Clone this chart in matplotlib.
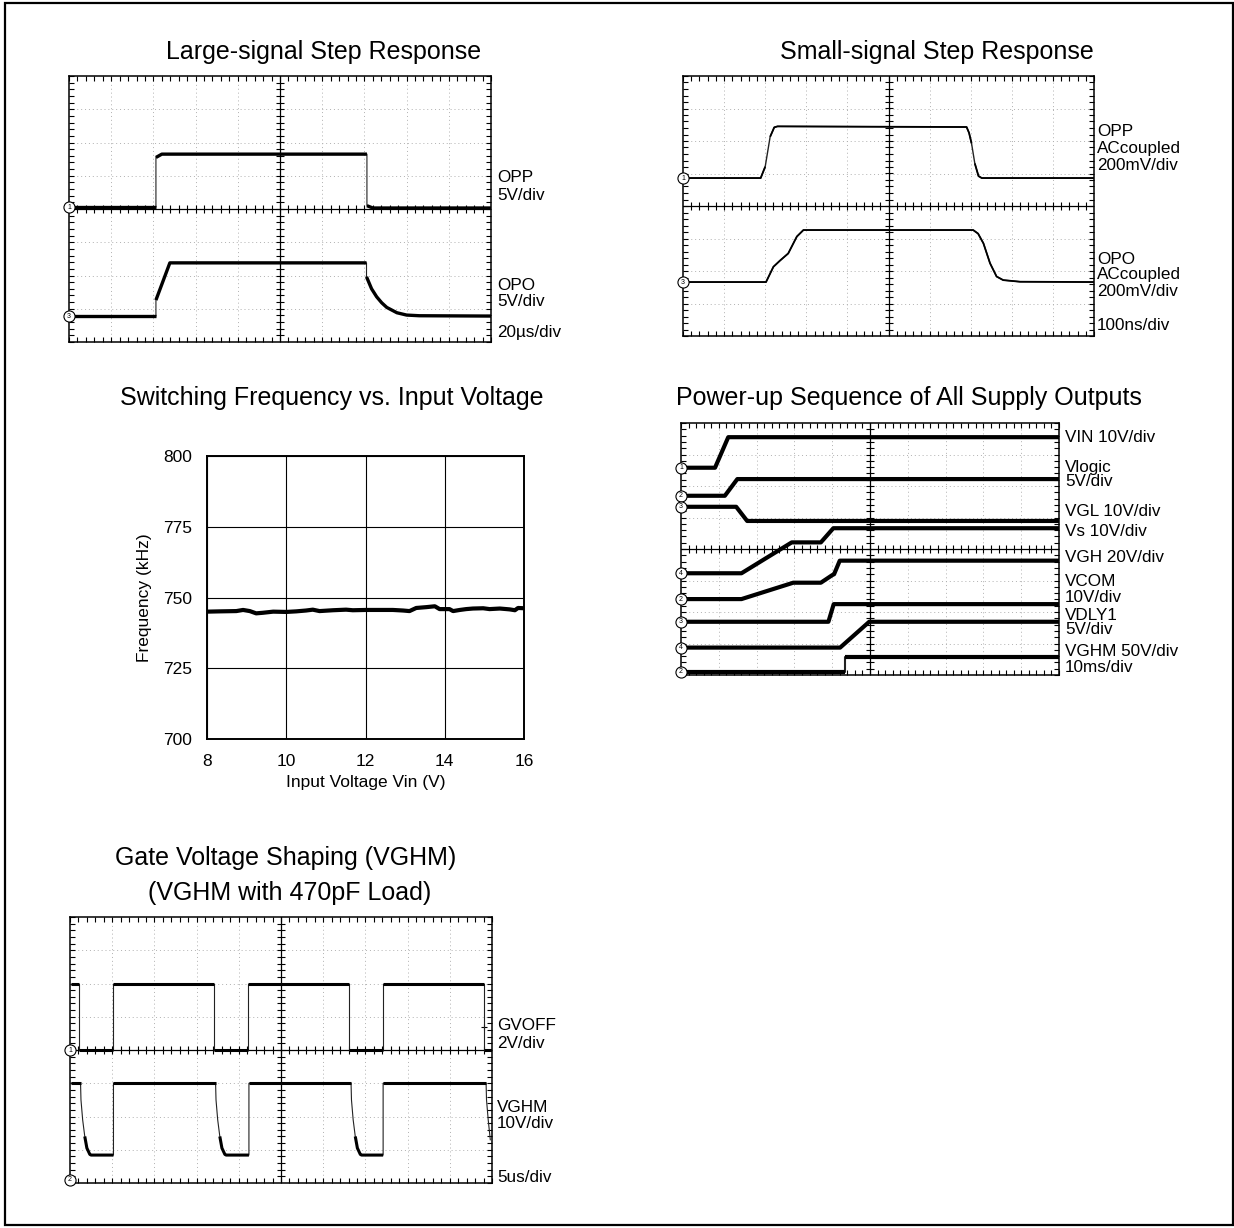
import numpy as np
import matplotlib
matplotlib.use("Agg")
import matplotlib.pyplot as plt
from matplotlib.patches import Rectangle

plt.rcParams['font.family'] = ['Liberation Sans', 'DejaVu Sans']

W, H = 1234, 1228

# ---- trace data (time / level in scope divisions) ----
# Large-signal step response
opp_ls_t = [0, 2.06, 2.06, 2.2, 7.06, 7.06, 7.2, 10]
opp_ls_v = [4.06, 4.06, 5.55, 5.65, 5.65, 4.1, 4.03, 4.03]
opo_ls_t = [0, 2.06, 2.06, 2.39, 7.05, 7.05, 7.17, 7.29, 7.41, 7.53, 7.77, 8.0, 8.3, 10]
opo_ls_v = [0.78, 0.78, 1.26, 2.38, 2.38, 1.96, 1.6, 1.36, 1.18, 1.04, 0.88, 0.81, 0.79, 0.78]

# Small-signal step response
opp_ss_t = [0, 1.89, 2.0, 2.12, 2.22, 2.3, 6.9, 6.96, 7.02, 7.1, 7.19, 7.27, 10]
opp_ss_v = [4.86, 4.86, 5.21, 6.13, 6.42, 6.45, 6.43, 6.25, 5.93, 5.31, 4.92, 4.86, 4.86]
opo_ss_t = [0, 2.02, 2.2, 2.36, 2.56, 2.77, 2.93, 7.06, 7.18, 7.31, 7.47, 7.63, 7.79, 8.2, 10]
opo_ss_v = [1.66, 1.66, 2.13, 2.32, 2.54, 3.06, 3.26, 3.26, 3.15, 2.85, 2.24, 1.83, 1.72, 1.67, 1.66]

# Switching frequency vs input voltage
vin = [8.0, 8.32, 8.74, 8.91, 9.08, 9.24, 9.41, 9.67, 10.0, 10.25, 10.5, 10.67,
       10.84, 11.18, 11.51, 11.68, 12.02, 12.35, 12.69, 12.95, 13.11, 13.28,
       13.54, 13.75, 13.87, 14.12, 14.21, 14.38, 14.54, 14.71, 14.97, 15.13,
       15.39, 15.64, 15.77, 15.85, 16.0]
freq = [745.0, 745.1, 745.2, 745.6, 745.2, 744.4, 744.6, 745.0, 744.9, 745.1,
        745.4, 745.7, 745.2, 745.5, 745.7, 745.5, 745.6, 745.6, 745.6, 745.4,
        745.2, 746.3, 746.6, 746.9, 745.9, 745.9, 745.2, 745.6, 745.9, 746.1,
        746.2, 745.9, 746.1, 745.8, 745.5, 746.3, 746.2]
freq_ticks = [700, 725, 750, 775, 800]
vin_ticks = [8, 10, 12, 14, 16]

# Power-up sequence
pu_traces = [
    # (time, level, channel)
    ([0, 0.9, 1.25, 10], [6.58, 6.58, 7.55, 7.55], '1'),
    ([0, 1.16, 1.49, 10], [5.69, 5.69, 6.22, 6.22], '2'),
    ([0, 1.46, 1.75, 10], [5.34, 5.34, 4.89, 4.89], '3'),
    ([0, 1.6, 2.93, 3.7, 4.03, 10], [3.23, 3.23, 4.21, 4.21, 4.66, 4.66], '4'),
    ([0, 1.6, 2.97, 3.7, 4.0, 4.05, 4.2, 10], [2.41, 2.41, 2.93, 2.93, 3.17, 3.2, 3.63, 3.63], '2'),
    ([0, 3.9, 4.04, 10], [1.69, 1.69, 2.25, 2.25], '3'),
    ([0, 4.21, 4.98, 10], [0.87, 0.87, 1.69, 1.69], '4'),
    ([0, 4.34, 4.34, 10], [0.1, 0.1, 0.58, 0.58], '2'),
]

# Gate voltage shaping
gvoff_t = [0.02, 0.21, 0.21, 1.01, 1.01, 3.41, 3.41, 4.21, 4.21, 6.61, 6.61,
           7.41, 7.41, 9.81, 9.81, 10.0]
gvoff_v = [6.0, 6.0, 4.0, 4.0, 6.0, 6.0, 4.0, 4.0, 6.0, 6.0, 4.0, 4.0, 6.0,
           6.0, 4.0, 4.0]
vghm_t = [0.02, 0.25, 0.26, 0.30, 0.35, 0.40, 0.47, 0.50, 1.03, 1.03,
          3.45, 3.46, 3.50, 3.55, 3.60, 3.67, 3.70, 4.24, 4.24,
          6.66, 6.67, 6.71, 6.76, 6.81, 6.88, 6.91, 7.42, 7.42,
          9.86, 9.87, 9.91, 9.96]
vghm_v = [3.0, 3.0, 2.5, 1.9, 1.4, 1.05, 0.86, 0.84, 0.84, 3.0,
          3.0, 2.5, 1.9, 1.4, 1.05, 0.86, 0.84, 0.84, 3.0,
          3.0, 2.5, 1.9, 1.4, 1.05, 0.86, 0.84, 0.84, 3.0,
          3.0, 2.5, 1.9, 1.3]


def rect_px(x0, y0, x1, y1):
    return [x0 / W, 1 - y1 / H, (x1 - x0) / W, (y1 - y0) / H]


def ftext(x, y, s, **kw):
    kw.setdefault('fontsize', 12.3)
    kw.setdefault('va', 'center')
    fig.text(x / W, 1 - y / H, s, **kw)


def scope_axes(x0, y0, x1, y1):
    ax = fig.add_axes(rect_px(x0, y0, x1, y1))
    ax.set_xlim(0, 10)
    ax.set_ylim(0, 8)
    ax.set_xticks(np.arange(0, 10.001, 0.2))
    ax.set_yticks(np.arange(0, 8.001, 0.2))
    ax.tick_params(direction='in', length=3.5, width=0.8, top=True, right=True,
                   labelbottom=False, labelleft=False)
    for s in ax.spines.values():
        s.set_linewidth(1.1)
    for i in range(1, 10):
        if i != 5:
            ax.axvline(i, color='#b0b0b0', ls=(0, (1, 3)), lw=0.7, zorder=0)
    for j in range(1, 8):
        if j != 4:
            ax.axhline(j, color='#b0b0b0', ls=(0, (1, 3)), lw=0.7, zorder=0)
    ax.axvline(5, color='black', lw=0.9, zorder=1)
    ax.axhline(4, color='black', lw=0.9, zorder=1)
    cx = np.arange(0.2, 10, 0.2)
    cy = np.arange(0.2, 8, 0.2)
    ax.plot(cx, np.full_like(cx, 4), ls='none', marker='|', ms=6, mew=0.8, color='black')
    ax.plot(np.full_like(cy, 5), cy, ls='none', marker='_', ms=6, mew=0.8, color='black')
    ax.px = ((x1 - x0) / 10.0, (y1 - y0) / 8.0)
    return ax


def draw_trace(ax, t, v, lw_flat, lw_edge=0.8):
    t = np.asarray(t, float)
    v = np.asarray(v, float)
    ax.plot(t, v, color='#222222', lw=lw_edge, zorder=3)
    sx, sy = ax.px
    run_t, run_v = [t[0]], [v[0]]
    for i in range(len(t) - 1):
        dx = (t[i + 1] - t[i]) * sx
        dy = abs(v[i + 1] - v[i]) * sy
        if dx > 0 and dy / dx < 6:
            if not run_t or run_t[-1] != t[i] or run_v[-1] != v[i]:
                run_t, run_v = [t[i]], [v[i]]
            run_t.append(t[i + 1])
            run_v.append(v[i + 1])
        else:
            if len(run_t) > 1:
                ax.plot(run_t, run_v, color='black', lw=lw_flat,
                        solid_capstyle='butt', solid_joinstyle='round', zorder=4)
            run_t, run_v = [], []
    if len(run_t) > 1:
        ax.plot(run_t, run_v, color='black', lw=lw_flat,
                solid_capstyle='butt', solid_joinstyle='round', zorder=4)


def channel_mark(ax, y, label):
    ax.plot(0, y, marker='o', ms=8, mfc='white', mec='black', mew=0.8,
            clip_on=False, zorder=6)
    ax.text(0, y, label, fontsize=5, ha='center', va='center', zorder=7)


fig = plt.figure(figsize=(W / 100, H / 100), dpi=100)

# outer frame
fig.add_artist(Rectangle((5 / W, 3 / H), 1228 / W, 1222 / H, transform=fig.transFigure,
                         fill=False, lw=1.6, edgecolor='black'))

TITLE = 18

# ---- Large-signal step response ----
ax1 = scope_axes(69, 76, 491, 342)
draw_trace(ax1, opp_ls_t, opp_ls_v, 2.4)
draw_trace(ax1, opo_ls_t, opo_ls_v, 2.4)
channel_mark(ax1, opp_ls_v[0], '1')
channel_mark(ax1, opo_ls_v[0], '3')
ftext(166, 52, 'Large-signal Step Response', fontsize=TITLE, ha='left')
ftext(497, 178, 'OPP')
ftext(497, 195, '5V/div')
ftext(497, 286, 'OPO')
ftext(497, 302, '5V/div')
ftext(497, 333, '20µs/div')

# ---- Small-signal step response ----
ax2 = scope_axes(683, 76, 1094, 336)
draw_trace(ax2, opp_ss_t, opp_ss_v, 1.3, 1.0)
draw_trace(ax2, opo_ss_t, opo_ss_v, 1.3, 1.0)
channel_mark(ax2, opp_ss_v[0], '1')
channel_mark(ax2, opo_ss_v[0], '3')
ftext(780, 52, 'Small-signal Step Response', fontsize=TITLE, ha='left')
for y, s in [(132, 'OPP'), (149, 'ACcoupled'), (166, '200mV/div'),
             (259, 'OPO'), (275, 'ACcoupled'), (291, '200mV/div'),
             (326, '100ns/div')]:
    ftext(1097, y, s)

# ---- Switching frequency vs input voltage ----
ax3 = fig.add_axes(rect_px(207, 456, 524, 739))
ax3.plot(vin, freq, color='black', lw=3, solid_joinstyle='round')
ax3.set_xlim(8, 16)
ax3.set_ylim(700, 800)
ax3.set_xticks(vin_ticks)
ax3.set_yticks(freq_ticks)
ax3.grid(True, color='black', lw=0.8)
ax3.tick_params(length=0, labelsize=12.5, pad=11)
for s in ax3.spines.values():
    s.set_linewidth(1.4)
ax3.set_xlabel('Input Voltage Vin (V)', fontsize=12.5, labelpad=4)
ax3.set_ylabel('Frequency (kHz)', fontsize=12.5, labelpad=8)
ftext(120, 398, 'Switching Frequency vs. Input Voltage', fontsize=TITLE, ha='left')

# ---- Power-up sequence ----
ax4 = scope_axes(681, 423, 1059, 675)
for t, v, ch in pu_traces:
    draw_trace(ax4, t, v, 3.0, 1.5)
    channel_mark(ax4, v[0], ch)
ftext(676, 398, 'Power-up Sequence of All Supply Outputs', fontsize=TITLE, ha='left')
for y, s in [(437, 'VIN 10V/div'), (467, 'Vlogic'), (482, '5V/div'),
             (511, 'VGL 10V/div'), (532, 'Vs 10V/div'), (557, 'VGH 20V/div'),
             (581, 'VCOM'), (597, '10V/div'), (615, 'VDLY1'), (630, '5V/div'),
             (652, 'VGHM 50V/div'), (668, '10ms/div')]:
    ftext(1065, y, s)

# ---- Gate voltage shaping ----
ax5 = scope_axes(70, 917, 492, 1183)
draw_trace(ax5, gvoff_t, gvoff_v, 2.2, 0.8)
draw_trace(ax5, vghm_t, vghm_v, 2.2, 0.8)
channel_mark(ax5, 4.0, '1')
channel_mark(ax5, 0.1, '2')
ax5.plot(9.8, 4.7, marker='+', ms=5, mew=0.8, color='black')
ftext(115, 858, 'Gate Voltage Shaping (VGHM)', fontsize=TITLE, ha='left')
ftext(148, 893, '(VGHM with 470pF Load)', fontsize=TITLE, ha='left')
ftext(497, 1026, 'GVOFF')
ftext(497, 1043, '2V/div')
ftext(497, 1107, 'VGHM')
ftext(497, 1124, '10V/div')
ftext(497, 1177, '5us/div')

fig.savefig('out.png', dpi=100)
